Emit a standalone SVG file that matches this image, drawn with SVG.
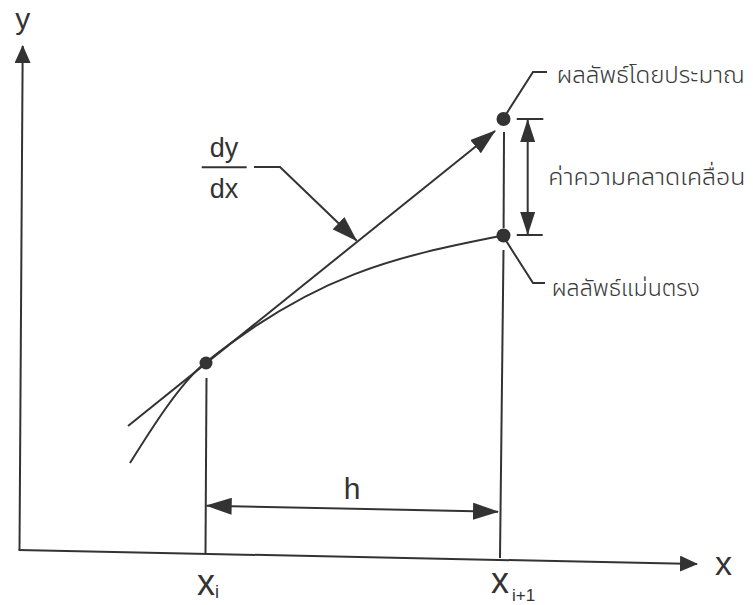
<svg xmlns="http://www.w3.org/2000/svg" width="753" height="605" viewBox="0 0 753 605">
  <style>
    .ln { fill: none; stroke: #333; stroke-width: 2; stroke-linecap: butt; stroke-linejoin: miter; }
    .dot { fill: #333; }
    .lat { font-family: "Liberation Sans", Arial, sans-serif; fill: #333; }
    .thai { font-family: "Noto Sans Thai", "Liberation Sans", "Noto Sans", sans-serif; fill: #3a3a3a; font-size: 23.5px; font-weight: 300; }
  </style>
  <defs>
    <marker id="ahL" markerUnits="userSpaceOnUse" markerWidth="26" markerHeight="17" viewBox="0 0 26 17" refX="25" refY="8.5" orient="auto-start-reverse">
      <path d="M0,0 L26,8.5 L0,17 Z" fill="#333"/>
    </marker>
    <marker id="ahM" markerUnits="userSpaceOnUse" markerWidth="23" markerHeight="15" viewBox="0 0 23 15" refX="22" refY="7.5" orient="auto-start-reverse">
      <path d="M0,0 L23,7.5 L0,15 Z" fill="#333"/>
    </marker>
    <marker id="ahS" markerUnits="userSpaceOnUse" markerWidth="18" markerHeight="16" viewBox="0 0 18 16" refX="17" refY="8" orient="auto-start-reverse">
      <path d="M0,0 L18,8 L0,16 Z" fill="#333"/>
    </marker>
  </defs>
  <rect width="753" height="605" fill="#ffffff"/>

  <g id="axes">
    <line class="ln" x1="19.5" y1="550" x2="22.7" y2="46" marker-end="url(#ahS)"/>
    <line class="ln" x1="18.5" y1="550" x2="697" y2="564" marker-end="url(#ahS)"/>
    <text class="lat" x="22.7" y="29" font-size="30" text-anchor="middle">y</text>
    <text class="lat" x="715" y="575" font-size="34">x</text>
  </g>

  <g id="connectors">
    <path id="curve" class="ln" d="M130,463 C150,431 180,383 205,363 C315,275 393,257 503,235.5"/>
    <line id="tangent" class="ln" x1="128" y1="426" x2="495" y2="131" marker-end="url(#ahL)"/>
    <line class="ln" x1="206.5" y1="378" x2="205.5" y2="553"/>
    <line class="ln" x1="504" y1="132" x2="503.6" y2="228"/>
    <line class="ln" x1="503.5" y1="250" x2="500" y2="558"/>
    <line class="ln" x1="206.7" y1="505.7" x2="498" y2="511.7" marker-start="url(#ahL)" marker-end="url(#ahL)"/>
    <line class="ln" x1="516.7" y1="119" x2="543.3" y2="119"/>
    <line class="ln" x1="516.7" y1="235" x2="542.7" y2="235"/>
    <line class="ln" x1="527.7" y1="120" x2="527.7" y2="234" marker-start="url(#ahM)" marker-end="url(#ahM)"/>
    <polyline class="ln" points="254,167 280,167 356.5,240.5" marker-end="url(#ahL)"/>
    <polyline class="ln" points="503,119 533,72 547,72"/>
    <polyline class="ln" points="503,236 533,283 545,283"/>
  </g>

  <g id="point-xi">
    <circle class="dot" cx="206" cy="363" r="6.5"/>
  </g>
  <g id="point-approx">
    <circle class="dot" cx="503.5" cy="119" r="7"/>
  </g>
  <g id="point-exact">
    <circle class="dot" cx="503.5" cy="235.5" r="7"/>
  </g>

  <g id="label-dydx">
    <text class="lat" x="224" y="156.7" font-size="27" text-anchor="middle">dy</text>
    <line class="ln" x1="201.7" y1="167.3" x2="246.7" y2="167.3"/>
    <text class="lat" x="224" y="198" font-size="27" text-anchor="middle">dx</text>
  </g>

  <g id="label-approx">
    <text class="thai" x="556.7" y="83" textLength="188" lengthAdjust="spacingAndGlyphs">ผลลัพธ์โดยประมาณ</text>
  </g>
  <g id="label-error">
    <text class="thai" x="548.3" y="185" textLength="197" lengthAdjust="spacingAndGlyphs">ค่าความคลาดเคลื่อน</text>
  </g>
  <g id="label-exact">
    <text class="thai" x="551.7" y="296" textLength="148" lengthAdjust="spacingAndGlyphs">ผลลัพธ์แม่นตรง</text>
  </g>

  <g id="label-h">
    <text class="lat" x="352" y="499" font-size="30" text-anchor="middle">h</text>
  </g>
  <g id="label-xi">
    <text class="lat" x="197" y="595" font-size="36">x</text>
    <text class="lat" x="215" y="598" font-size="18">i</text>
  </g>
  <g id="label-xi1">
    <text class="lat" x="491" y="593" font-size="36">x</text>
    <text class="lat" x="512" y="601" font-size="17">i+1</text>
  </g>
</svg>
